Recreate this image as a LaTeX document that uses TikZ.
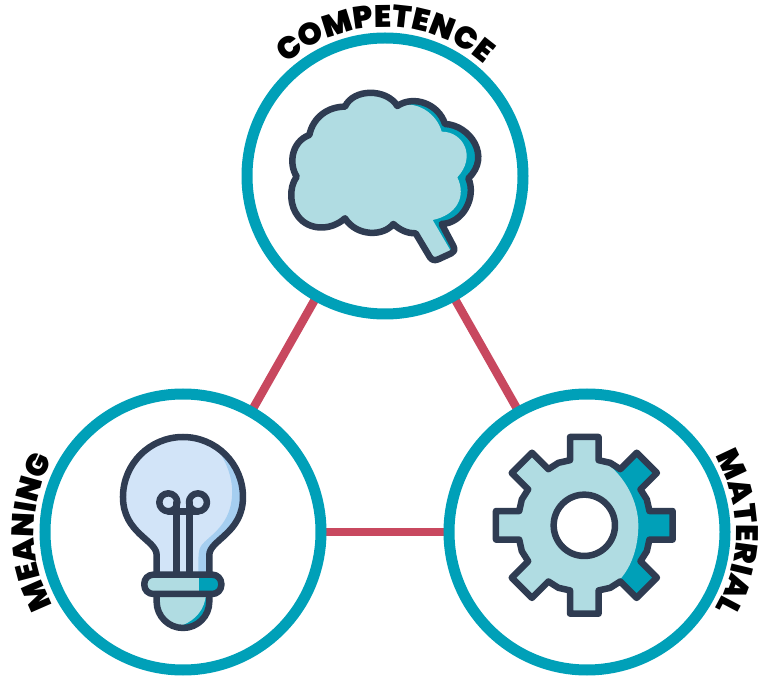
\documentclass[tikz,border=0pt]{standalone}
\usepackage{fontspec}
\newfontfamily\lblfont{Poppins Black}
\usetikzlibrary{decorations.text,calc}
\definecolor{ringteal}{HTML}{00A0B8}
\definecolor{lighteal}{HTML}{B0DCE2}
\definecolor{inkdark}{HTML}{2F3C52}
\definecolor{linkred}{HTML}{C8485F}
\definecolor{bulbpale}{HTML}{D2E4F8}
\definecolor{bulbmid}{HTML}{A5CEF0}
\newcommand{\lblstyle}{\lblfont\fontsize{31}{31}\selectfont}
\tikzset{
  ring/.style={circle,draw=ringteal,line width=11pt,fill=white,inner sep=0pt,minimum size=276pt},
  link/.style={draw=linkred,line width=8.5pt},
  ink/.style={draw=inkdark,line width=6.5pt,line join=round,line cap=round},
  zoomed/.style={x=0.3333pt,y=-0.3333pt},
  curvedlabel/.style={decorate,decoration={text along path,text align=center,text={#1}}}
}
\begin{document}
\begin{tikzpicture}[x=1pt,y=1pt]
\useasboundingbox (0,0) rectangle (758,678);
% connectors
\coordinate (cT) at (385,502);
\coordinate (cL) at (183,146);
\coordinate (cR) at (587,146);
\draw[link] (cT) -- (cL);
\draw[link] (cT) -- (cR);
\draw[link] (cL) -- (cR);
\node[ring] (competence) at (cT) {};
\node[ring] (meaning) at (cL) {};
\node[ring] (material) at (cR) {};
% labels
\path[curvedlabel={|\lblstyle|COMPETENCE}] ($(cT)+(140:149)$) arc[start angle=140,end angle=40,radius=149];
\path[curvedlabel={|\lblstyle|MEANING}] ($(cL)+(220:149)$) arc[start angle=220,end angle=140,radius=149];
\path[curvedlabel={|\lblstyle|MATERIAL}] ($(cR)+(40:149)$) arc[start angle=40,end angle=-40,radius=149];
% brain
\begin{scope}[shift={(250,678)},zoomed]
\def\brainpath{(140,530) .. controls (115,490) and (125,425) .. (178,405)
 .. controls (190,350) and (235,320) .. (285,320)
 .. controls (310,265) and (410,265) .. (442,318)
 .. controls (490,285) and (565,310) .. (585,372)
 .. controls (660,375) and (725,470) .. (655,535)
 .. controls (680,590) and (640,670) .. (575,672)
 -- (610,738) .. controls (616,750) and (612,756) .. (604,760)
 -- (565,778) .. controls (553,783) and (546,780) .. (540,772)
 -- (497,700)
 .. controls (470,700) and (450,690) .. (430,672)
 .. controls (400,710) and (320,710) .. (285,655)
 .. controls (240,695) and (175,690) .. (145,650)
 .. controls (120,620) and (115,565) .. (140,530) -- cycle}
\fill[ringteal] \brainpath;
\fill[lighteal] (140,530) .. controls (115,490) and (125,425) .. (178,405)
 .. controls (190,350) and (235,320) .. (285,320)
 .. controls (310,265) and (410,265) .. (442,318)
 .. controls (500,300) and (560,340) .. (575,395)
 .. controls (640,395) and (680,470) .. (622,532)
 .. controls (650,590) and (620,645) .. (548,660)
 -- (604,756) -- (565,778) .. controls (553,783) and (546,780) .. (540,772)
 -- (497,700)
 .. controls (470,700) and (450,690) .. (430,672)
 .. controls (400,710) and (320,710) .. (285,655)
 .. controls (240,695) and (175,690) .. (145,650)
 .. controls (120,620) and (115,565) .. (140,530) -- cycle;
\draw[ink] \brainpath;
\end{scope}
% bulb
\begin{scope}[shift={(0,258)},zoomed]
\def\globepath{(470,462) -- (470,405) .. controls (470,360) and (369,340) .. (369,231)
 .. controls (369,131.6) and (449.6,51) .. (549,51)
 .. controls (648.4,51) and (729,131.6) .. (729,231)
 .. controls (729,340) and (628,360) .. (628,405) -- (628,462)}
\fill[bulbpale] \globepath -- cycle;
\fill[bulbmid] (650,82) .. controls (695,150) and (700,200) .. (695,240)
 .. controls (685,320) and (625,350) .. (605,375)
 .. controls (595,390) and (595,400) .. (595,462) -- (628,462) -- (628,405)
 .. controls (628,360) and (729,340) .. (729,231)
 .. controls (729,170) and (700,115) .. (650,82) -- cycle;
\draw[ink] \globepath;
% filament
\draw[ink] (530,462) -- (530,247);
\draw[ink] (569,462) -- (569,247);
\draw[ink] (505,274) -- (594,274);
\draw[ink] (505,247) circle[radius=27];
\draw[ink] (594,247) circle[radius=27];
% cap
\def\cappath{(470,522) -- (470,545) .. controls (470,588.6) and (505.4,624) .. (549,624)
 .. controls (592.6,624) and (628,588.6) .. (628,545) -- (628,522)}
\fill[ringteal] \cappath -- cycle;
\fill[lighteal] (470,522) -- (470,545) .. controls (470,588.6) and (505.4,624) .. (549,615)
 .. controls (585,600) and (615,570) .. (618,522) -- cycle;
\draw[ink] \cappath;
% collar
\fill[lighteal] (433,464) rectangle (598,522);
\fill[ringteal] (598,464) rectangle (664,522);
\draw[ink,rounded corners=9pt] (433,464) rectangle (664,522);
\end{scope}
% gear
\begin{scope}[shift={(480,258)},zoomed]
\def\gearpath{({313+200*cos(-12.4)},{316+200*sin(-12.4)})
 \foreach \a in {0,45,...,315}{
   -- ({313+268.5*cos(\a-9.2)},{316+268.5*sin(\a-9.2)})
   -- ({313+268.5*cos(\a+9.2)},{316+268.5*sin(\a+9.2)})
   -- ({313+200*cos(\a+12.4)},{316+200*sin(\a+12.4)})
   -- ({313+203*cos(\a+22.5)},{316+203*sin(\a+22.5)})
   -- ({313+200*cos(\a+32.6)},{316+200*sin(\a+32.6)})
 } -- cycle}
\fill[ringteal] \gearpath;
\begin{scope}
\clip (0,0) -- (365,0) -- (365,118) .. controls (440,170) and (475,250) .. (475,316)
 .. controls (475,380) and (455,440) .. (420,478) -- (365,520) -- (365,630) -- (0,630) -- cycle;
\fill[lighteal] \gearpath;
\end{scope}
\draw[ink] \gearpath;
\draw[ink,fill=white] (313,316) circle[radius=92];
\end{scope}
\end{tikzpicture}
\end{document}
